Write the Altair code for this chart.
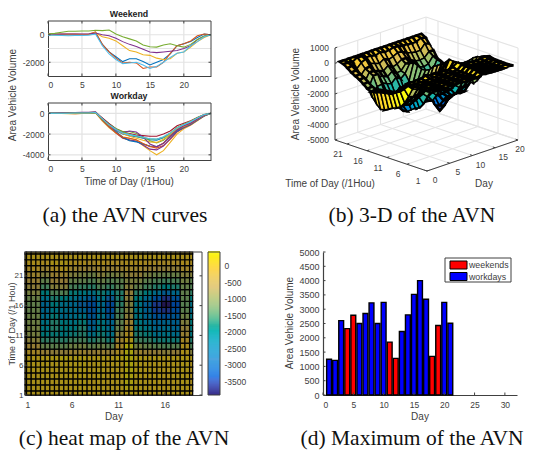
import altair as alt
import pandas as pd

PARULA = ['#352a87','#0363e1','#1485d4','#06a7c6','#38b99e','#92bf73','#d9ba56','#fcce2e','#f9fb0e']
LINE_COLORS = ['#0072BD','#D95319','#EDB120','#7E2F8E','#77AC30','#4DBEEE','#A2142F']
SANS = "Liberation Sans"
SERIF = "Liberation Serif"
AX = "#404040"
CAP = 21.5
W, H = 518, 442

# Area vehicle volume per day, value at hour 0..24
D01 = [0,10,20,20,30,30,40,60,-200,-500,-750,-950,-1000,-1050,-1100,-1200,-1250,-1150,-950,-750,-600,-450,-250,-80,0]
D02 = [0,10,10,20,20,30,30,50,-250,-550,-800,-950,-1000,-1050,-1100,-1150,-1200,-1100,-900,-700,-550,-400,-200,-60,0]
D03 = [0,10,20,30,40,40,50,80,-550,-1150,-1650,-2000,-2150,-2250,-2400,-2550,-2600,-2350,-2000,-1500,-1200,-850,-500,-150,0]
D04 = [0,0,10,10,10,0,20,100,-700,-1250,-1600,-1950,-1750,-1750,-1950,-2200,-2000,-1800,-1400,-800,-650,-500,-200,50,0]
D05 = [50,50,60,60,50,40,50,200,-700,-1250,-1700,-2050,-2000,-2050,-2450,-2350,-2350,-2000,-1350,-800,-650,-450,-80,50,0]
D06 = [0,20,30,40,50,60,60,90,-500,-1050,-1500,-1900,-2050,-2200,-2350,-2450,-2500,-2300,-1950,-1450,-1150,-850,-450,-150,0]
D07 = [0,30,50,60,70,80,90,120,-450,-1000,-1450,-1750,-1750,-1950,-2250,-2650,-2850,-2600,-2100,-1600,-1200,-950,-550,-150,0]
D08 = [0,0,-10,-20,-20,-10,0,60,-600,-1200,-1750,-2300,-2650,-2750,-2950,-3150,-3200,-2900,-2300,-1700,-1350,-1050,-650,-250,0]
D09 = [0,10,20,20,30,40,40,80,-500,-1100,-1550,-1900,-2050,-2150,-2300,-2450,-2500,-2250,-1900,-1400,-1100,-800,-450,-120,0]
D10 = [0,-10,-20,-20,-30,-20,0,50,-600,-1250,-1850,-2300,-2400,-2550,-2900,-3200,-3230,-2850,-2250,-1600,-1300,-1000,-600,-200,0]
D11 = [0,-20,-20,-10,0,0,20,150,-150,-250,-450,-800,-1150,-1250,-1450,-1500,-1700,-1800,-1750,-1350,-1250,-900,-500,-200,0]
D12 = [50,100,180,250,260,270,280,320,300,350,50,-150,-300,-450,-750,-880,-900,-750,-650,-800,-900,-700,-350,-100,0]
D13 = [0,20,30,30,40,50,60,90,-450,-1000,-1500,-1800,-1950,-2100,-2150,-2200,-2200,-2000,-1700,-1200,-950,-700,-400,-100,0]
D14 = [0,10,10,20,20,30,30,60,-550,-1150,-1600,-1950,-2200,-2400,-2600,-2750,-2800,-2500,-2000,-1500,-1250,-950,-550,-180,0]
D15 = [0,0,0,-10,-10,0,10,70,-650,-1300,-1850,-2350,-2550,-2700,-3050,-3450,-3520,-3150,-2450,-1750,-1400,-1100,-650,-220,0]
D16 = [0,-10,-20,-30,-30,-20,-10,50,-750,-1400,-1900,-2250,-2400,-2600,-3100,-3600,-4000,-3600,-2800,-2000,-1500,-1150,-700,-250,0]
D17 = [0,-10,-20,-20,-20,-10,0,60,-650,-1300,-1900,-2400,-2600,-2700,-2950,-3200,-3350,-3100,-2500,-1800,-1400,-1100,-700,-250,0]
D18 = [50,30,50,60,60,60,60,120,0,-70,-250,-500,-700,-850,-1050,-1250,-1300,-1250,-1200,-1150,-1000,-800,-350,-100,0]
D19 = [-30,-40,-60,-70,-60,-50,-40,50,-800,-1400,-1800,-2100,-2050,-2000,-2200,-2450,-2300,-2000,-1650,-1350,-1250,-800,-500,-150,0]
D20 = [0,40,60,80,90,100,110,150,-500,-1100,-1600,-1850,-1700,-1800,-2300,-2950,-3230,-2900,-2200,-1600,-1200,-950,-550,-180,0]
D21 = [0,20,20,30,30,40,40,70,-550,-1100,-1500,-1800,-2000,-2200,-2350,-2480,-2500,-2300,-1900,-1350,-1050,-750,-400,-100,0]
DAYS = [D01,D02,D03,D04,D05,D06,D07,D08,D09,D10,D11,D12,D13,D14,D15,D16,D17,D18,D19,D20,D21]

WEEKEND_ORDER = [4,5,11,18,12,19]
WORKDAY_ORDER = [3,17,16,15,7,6,13,8,10,14,20,21,9]
BAR_VALUES = [1250,1210,2600,2320,2790,2500,2850,3220,2500,3240,1850,1280,2220,2800,3520,4000,3350,1350,2430,3240,2510]
BAR_KIND = ["workdays"]*3+["weekends"]*2+["workdays"]*5+["weekends"]*2+["workdays"]*5+["weekends"]*2+["workdays"]*2
BAR_COLORS = {"weekends": "#FF0000", "workdays": "#0000FF"}
HOUR_TICKS = [0,5,10,15,20]

def qs(domain, rng):
    return alt.Scale(domain=domain, range=rng, nice=False, zero=False)

def ax(**k):
    base = dict(labelFont=SANS, labelFontSize=8.5, labelColor=AX, title=None, domainColor=AX, domainWidth=1,
                tickSize=0, labelPadding=4, grid=False, labelOverlap=False, labelExpr="''+datum.value")
    base.update(k)
    return alt.Axis(**base)

def rules(rows, sx, sy, color=AX, width=1.0):
    base = alt.Chart(pd.DataFrame(rows)).mark_rule(color=color, strokeWidth=width)
    return base.encode(x=alt.X("x:Q", scale=sx, axis=None), x2="x2:Q",
                       y=alt.Y("y:Q", scale=sy, axis=None), y2="y2:Q")

def hrules(vals, xd, sx, sy, color=AX, width=1.0):
    return rules([{"x": xd[0], "x2": xd[1], "y": v, "y2": v} for v in vals], sx, sy, color, width)

def vrules(vals, yd, sx, sy, color=AX, width=1.0):
    return rules([{"x": v, "x2": v, "y": yd[0], "y2": yd[1]} for v in vals], sx, sy, color, width)

def inward(xt, yt, xd, yd, sx, sy, box=True, px=2.5, wpx=163, hpx=55):
    dx = (xd[1]-xd[0])*px/wpx
    dy = (yd[1]-yd[0])*px/hpx
    rows = [{"x": v, "x2": v, "y": yd[0], "y2": yd[0]+dy} for v in xt]
    rows += [{"x": xd[0], "x2": xd[0]+dx, "y": v, "y2": v} for v in yt]
    if box:
        rows += [{"x": v, "x2": v, "y": yd[1], "y2": yd[1]-dy} for v in xt]
        rows += [{"x": xd[1], "x2": xd[1]-dx, "y": v, "y2": v} for v in yt]
    return rules(rows, sx, sy)

def label(text, x, y, size=10, angle=0, font=SANS, color=AX, weight="normal"):
    return alt.Chart(pd.DataFrame({"s": [text]})).mark_text(
        font=font, fontSize=size, color=color, align="center", baseline="middle", angle=angle, fontWeight=weight
    ).encode(x=alt.value(x), y=alt.value(y), text="s:N")

def caption(text, x, y):
    return label(text, x, y, size=CAP, font=SERIF, color="#111111")

layers = []

# ---- (a) the two groups of curves ----
def curves(order, ydom, yvals, gridvals, ylabels, top, bottom):
    left, right = 40, 203
    sx = qs([0,24], [left, right])
    sy = qs(ydom, [bottom, top])
    df = pd.DataFrame([{"t": t, "v": v, "c": "%02d" % i}
                       for i, d in enumerate(order) for t, v in enumerate(DAYS[d-1])])
    expr = "indexof([" + ",".join(str(v) for v in ylabels) + "], datum.value) >= 0 ? ''+datum.value : ''"
    out = [vrules(HOUR_TICKS[1:], ydom, sx, sy, "#E3E3E3", 1.2), hrules(gridvals, [0,24], sx, sy, "#E3E3E3", 1.2)]
    out.append(alt.Chart(df).mark_line(strokeWidth=1.05, clip=True).encode(
        x=alt.X("t:Q", scale=sx, axis=ax(values=HOUR_TICKS, orient="bottom", offset=bottom-H, labelPadding=4)),
        y=alt.Y("v:Q", scale=sy, axis=ax(values=yvals, orient="left", offset=-left, labelExpr=expr)),
        color=alt.Color("c:N", scale=alt.Scale(range=LINE_COLORS), legend=None)))
    out.append(hrules([ydom[1]], [0,24], sx, sy))
    out.append(vrules([24], ydom, sx, sy))
    out.append(inward(HOUR_TICKS, yvals, [0,24], ydom, sx, sy, wpx=right-left, hpx=bottom-top))
    return out

layers += curves(WEEKEND_ORDER, [-3000,1000], [-2000,0], [-2000,-1000,0], [-2000,0], 13, 68)
layers += curves(WORKDAY_ORDER, [-4500,1000], [-4000,-2000,0], [-4000,-2000,0], [-4000,-2000,0], 95, 152)
layers += [label("Weekend", 121, 6, size=8.8, weight="bold", color="#222222"),
           label("Workday", 121, 88, size=8.8, weight="bold", color="#222222"),
           label("Area Vehicle Volume", 5, 87, angle=270),
           label("Time of Day (/1Hou)", 121, 174),
           caption("(a) the AVN curves", 117, 208)]

# ---- (b) 3-D surface ----
def proj(d, t, z):
    return (419 - (t-1)*4.0 + d*4.55, 163 - (t-1)*1.35 - d*1.55 - (z+5000)*92/6000)

Z_TICKS = [1000,0,-1000,-2000,-3000,-4000,-5000]
D_TICKS = [0,5,10,15,20]
T_TICKS = [1,6,11,16,21]
WALL_TINT = {2:0.42}

def feature(coords, c, w=1.0, kind="Polygon"):
    return {"type":"Feature","properties":{"c":c,"w":w},
            "geometry":{"type":kind,"coordinates":[coords] if kind=="Polygon" else coords}}

def gline(p, q):
    return feature([list(proj(*p)), list(proj(*q))], 0, 1.0, "LineString")

grid = []
for z in Z_TICKS:
    grid.append(gline((0,24,z),(20,24,z)))
    grid.append(gline((20,24,z),(20,1,z)))
for d in D_TICKS:
    grid.append(gline((d,1,-5000),(d,24,-5000)))
    grid.append(gline((d,24,-5000),(d,24,1000)))
for t in T_TICKS:
    grid.append(gline((0,t,-5000),(20,t,-5000)))
    grid.append(gline((20,t,-5000),(20,t,1000)))

edges = [gline((0,24,1000),(0,24,-5000)), gline((0,24,-5000),(0,1,-5000)), gline((0,1,-5000),(20,1,-5000))]
for z in Z_TICKS:
    edges.append(gline((0,24,z),(0.5,24,z)))
for d in D_TICKS:
    edges.append(gline((d,1,-5000),(d,1.6,-5000)))
for t in T_TICKS:
    edges.append(gline((0,t,-5000),(0.5,t,-5000)))

def area(poly):
    s = 0
    for i in range(4):
        s += poly[i][0]*poly[i+1][1] - poly[i+1][0]*poly[i][1]
    return abs(s)/2

quads = []
for di in range(1, 19):
    a, b = DAYS[di-1], DAYS[di]
    for t in range(1, 24):
        zs = [a[t], b[t], b[t+1], a[t+1]]
        m = sum(zs)/4
        c = min(1.0, (m+3926)/4352 + WALL_TINT.get(di, 0))
        poly = [list(proj(di,t,zs[0])), list(proj(di+1,t,zs[1])), list(proj(di+1,t+1,zs[2])), list(proj(di,t+1,zs[3]))]
        poly.append(poly[0])
        w = 2.6 if area(poly) < 30 else 1.5
        quads.append(((t/23 + di/20), feature(poly, c, w)))
quads.sort(key=lambda q: -q[0])
quads = [q[1] for q in quads]

def geo(feats):
    return alt.Data(values={"type":"FeatureCollection","features":feats}, format=alt.DataFormat(property="features", type="json"))

PROJ = dict(type="identity", scale=1, translate=[0,0])
layers.append(alt.Chart(geo(grid)).mark_geoshape(filled=False, stroke="#E4E4E4", strokeWidth=1.1).project(**PROJ))
layers.append(alt.Chart(geo(edges)).mark_geoshape(filled=False, stroke=AX, strokeWidth=1).project(**PROJ))
layers.append(alt.Chart(geo(quads)).mark_geoshape(stroke="#000000").encode(
    fill=alt.Fill("properties.c:Q", scale=alt.Scale(domain=[0,1], range=PARULA), legend=None),
    strokeWidth=alt.StrokeWidth("properties.w:Q", scale=None)).project(**PROJ))

txt = []
for z in Z_TICKS:
    x, y = proj(0,24,z)
    txt.append({"x": x-6, "y": y, "s": str(z), "a": "right"})
for t in T_TICKS:
    x, y = proj(0,t,-5000)
    txt.append({"x": x-9, "y": y+10, "s": str(t), "a": "center"})
for d in D_TICKS:
    x, y = proj(d,1,-5000)
    txt.append({"x": min(x+8, W-6), "y": y+9, "s": str(d), "a": "center"})
tdf = pd.DataFrame(txt)
for al in ("right", "center"):
    layers.append(alt.Chart(tdf[tdf.a == al]).mark_text(font=SANS, fontSize=8.5, color=AX, align=al, baseline="middle").encode(
        x=alt.X("x:Q", scale=qs([0,W],[0,W]), axis=None), y=alt.Y("y:Q", scale=qs([0,H],[0,H]), axis=None), text="s:N"))
layers += [label("Time of Day (/1Hou)", 322, 176), label("Day", 476, 176),
           label("Area Vehicle Volume", 288, 86, angle=270), caption("(b) 3-D of the AVN", 404, 208)]

# ---- (c) heat map ----
HEAT_DOMAIN = [-3926,426]
heat_rows = []
for di in range(1, 20):
    for half in (0, 1):
        x0 = max(1, di - 1/3 + half*0.5)
        x1 = min(19, di - 1/3 + (half+1)*0.5)
        if x1 <= x0:
            continue
        for t in range(1, 25):
            heat_rows.append({"x": x0, "x2": x1, "y": max(1, t-0.3), "y2": t+0.7, "v": DAYS[di-1][t]})
        heat_rows.append({"x": x0, "x2": x1, "y": 24.7, "y2": 25, "v": DAYS[di-1][24]})
hdf = pd.DataFrame(heat_rows)
C_XT, C_YT = [1,6,11,16], [1,6,11,16,21]
C_T, C_B = 244, 387
C_SX = qs([1,20], [17,194])
C_SY = qs([1,25], [C_B,C_T])
layers.append(alt.Chart(pd.DataFrame([{"x":1,"x2":19,"y":1,"y2":25}])).mark_rect(color="#000000").encode(
    x=alt.X("x:Q", scale=C_SX, axis=None), x2="x2:Q", y=alt.Y("y:Q", scale=C_SY, axis=None), y2="y2:Q"))
layers.append(alt.Chart(hdf).mark_rect(stroke="#000000", strokeWidth=1.2, fillOpacity=0.66).encode(
    x=alt.X("x:Q", scale=C_SX, axis=ax(values=C_XT, orient="bottom", offset=C_B-H, labelPadding=5)),
    x2="x2:Q",
    y=alt.Y("y:Q", scale=C_SY, axis=ax(values=C_YT, orient="left", offset=-17, labelPadding=2, labelFontSize=8)),
    y2="y2:Q",
    color=alt.Color("v:Q", scale=alt.Scale(domain=HEAT_DOMAIN, range=PARULA), legend=None)))
layers.append(hrules([25], [1,20], C_SX, C_SY))
layers.append(vrules([20], [1,25], C_SX, C_SY))
layers.append(inward(C_XT, C_YT, [1,20], [1,25], C_SX, C_SY, wpx=177, hpx=143))
layers += [label("Time of Day (/1 Hou)", 4.4, 316, size=9, angle=270), label("Day", 106, 409),
           caption("(c) heat map of the AVN", 116, 431)]

CB_VALUES = list(range(-3926, 426, 30))
cb_df = pd.DataFrame({"v": CB_VALUES, "v2": [v+30 for v in CB_VALUES]})
CB_SY = qs(HEAT_DOMAIN, [C_B,C_T])
layers.append(alt.Chart(cb_df).mark_rect().encode(
    x=alt.value(200), x2=alt.value(212),
    y=alt.Y("v:Q", scale=CB_SY, axis=ax(orient="right", offset=212-W, domain=False,
                                        values=[0,-500,-1000,-1500,-2000,-2500,-3000,-3500], labelPadding=4)),
    y2="v2:Q",
    color=alt.Color("v:Q", scale=alt.Scale(domain=HEAT_DOMAIN, range=PARULA), legend=None)))
layers.append(alt.Chart(pd.DataFrame({"s": ["box"]})).mark_rect(filled=False, stroke=AX, strokeWidth=1).encode(
    x=alt.value(200), x2=alt.value(212), y=alt.value(C_T), y2=alt.value(C_B)))

# ---- (d) bars ----
bdf = pd.DataFrame({"d": range(1, 22), "v": BAR_VALUES, "k": BAR_KIND})
bdf["a"] = bdf.d - 0.4
bdf["b"] = bdf.d + 0.4
X_D, Y_D = [0,32], [0,5000]
D_XT, D_YT = [0,5,10,15,20,25,30], [0,500,1000,1500,2000,2500,3000,3500,4000,4500,5000]
D_SX = qs(X_D, [315,509])
D_SY = qs(Y_D, [C_B,C_T])
layers.append(alt.Chart(bdf).mark_rect(stroke="#000000", strokeWidth=1.4).encode(
    x=alt.X("a:Q", scale=D_SX, axis=ax(values=D_XT, orient="bottom", offset=C_B-H, labelPadding=5, domainWidth=1.2)),
    x2="b:Q",
    y=alt.Y("v:Q", scale=D_SY, axis=ax(values=D_YT, orient="left", offset=-315, domainWidth=1.2, labelFontSize=9)),
    y2=alt.Y2(datum=0),
    fill=alt.Fill("k:N", scale=alt.Scale(domain=list(BAR_COLORS), range=list(BAR_COLORS.values())), legend=None)))
layers.append(inward(D_XT, D_YT, X_D, Y_D, D_SX, D_SY, box=False, wpx=194, hpx=143))
layers.append(alt.Chart(pd.DataFrame({"s": ["box"]})).mark_rect(fill="white", stroke=AX, strokeWidth=1).encode(
    x=alt.value(437), x2=alt.value(503), y=alt.value(250), y2=alt.value(274)))
for i, (k, col) in enumerate(BAR_COLORS.items()):
    yc = 257 + i*11.5
    layers.append(alt.Chart(pd.DataFrame({"s": [k]})).mark_rect(fill=col, stroke="#000000", strokeWidth=1).encode(
        x=alt.value(442), x2=alt.value(459), y=alt.value(yc-4), y2=alt.value(yc+4)))
    layers.append(alt.Chart(pd.DataFrame({"s": [k]})).mark_text(
        font=SANS, fontSize=8.8, color=AX, align="left", baseline="middle").encode(
        x=alt.value(461), y=alt.value(yc), text="s:N"))
layers += [label("Area Vehicle Volume", 282, 315, angle=270), label("Day", 412, 409),
           caption("(d) Maximum of the AVN", 404, 431)]

chart = alt.layer(*layers).resolve_scale(
    x="independent", y="independent", color="independent", fill="independent"
).properties(
    width=W, height=H, padding=0, background="white",
    autosize=alt.AutoSizeParams(type="none"), view=alt.ViewBackground(strokeWidth=0)
)

chart.save("out.html", embed_options={"renderer": "svg", "actions": False})
